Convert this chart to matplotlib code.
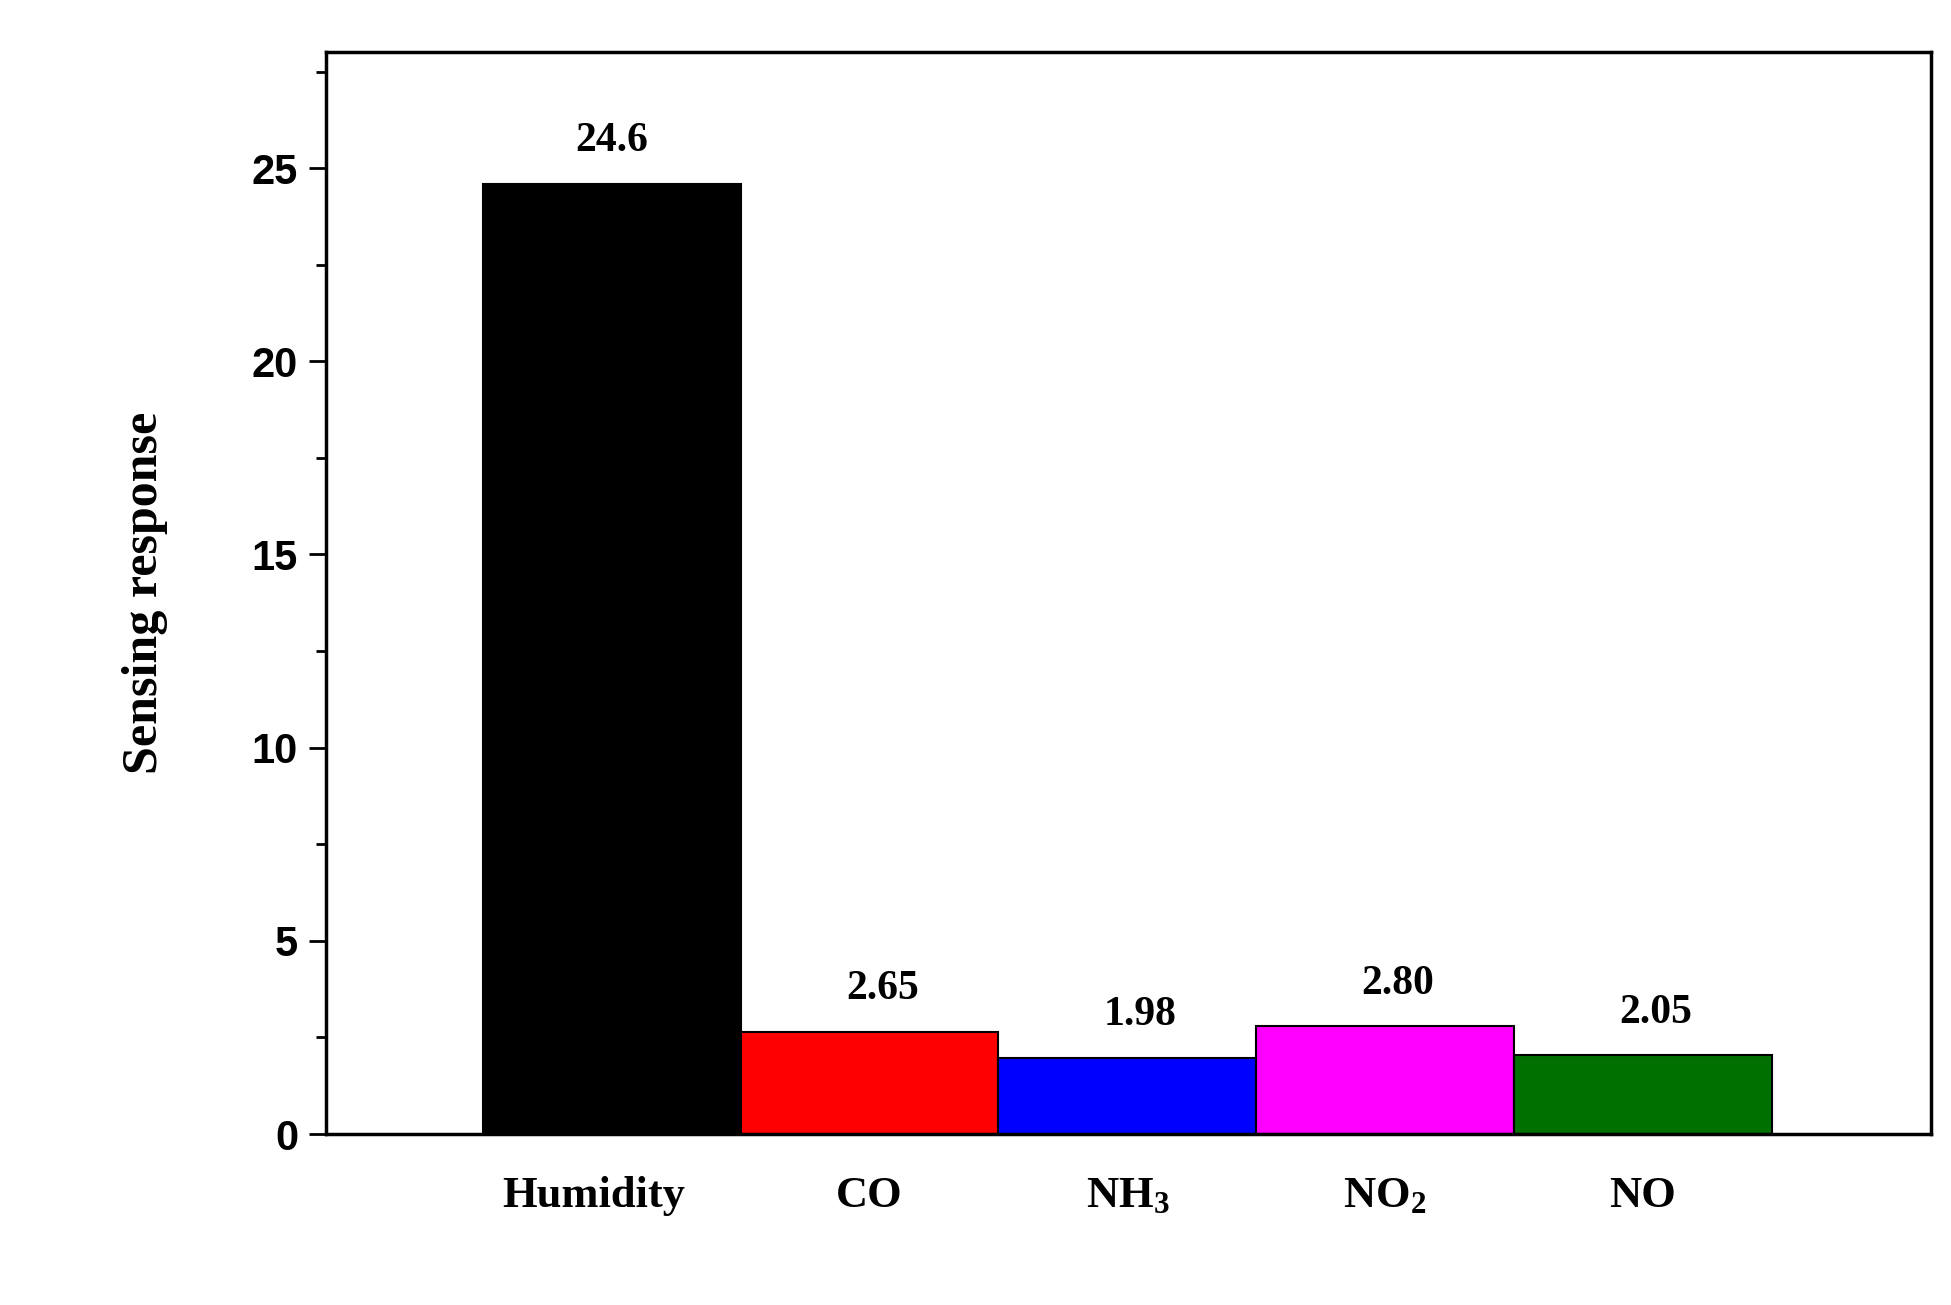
import matplotlib
matplotlib.use("Agg")
import matplotlib.pyplot as plt
from matplotlib.ticker import MultipleLocator

categories = ["Humidity", "CO", r"NH$_3$", r"NO$_2$", "NO"]
values = [24.6, 2.65, 1.98, 2.80, 2.05]
value_labels = ["24.6", "2.65", "1.98", "2.80", "2.05"]
colors = ["#000000", "#ff0000", "#0000ff", "#ff00ff", "#007000"]

plt.rcParams['mathtext.fontset'] = 'custom'
plt.rcParams['mathtext.rm'] = 'Liberation Serif:bold'
plt.rcParams['mathtext.it'] = 'Liberation Serif:bold'

fig = plt.figure(figsize=(19.51, 13.05), dpi=100)
ax = fig.add_axes([0.167, 0.131, 0.823, 0.829])
x = list(range(len(values)))
ax.bar(x, values, width=1.0, color=colors, edgecolor="black", linewidth=1.5)
for xi, v, t in zip(x, values, value_labels):
    ax.text(xi + 0.05 * (xi > 0), v + 0.6, t, ha="center", va="bottom",
            fontsize=30, fontweight="bold", family="Liberation Serif")
ax.set_xlim(-1.11, 5.12)
ax.set_ylim(0, 28)
ax.set_xticks([-0.07, 1.0, 2.0, 3.0, 4.0])
ax.set_xticklabels(categories, family="Liberation Serif", fontweight="bold", fontsize=32)
ax.tick_params(axis="x", length=0, pad=30)
ax.yaxis.set_major_locator(MultipleLocator(5))
ax.yaxis.set_minor_locator(MultipleLocator(2.5))
ax.tick_params(axis="y", which="major", length=12, width=2, labelsize=30, pad=8)
ax.tick_params(axis="y", which="minor", length=7, width=2)
for lab in ax.get_yticklabels():
    lab.set_family("Liberation Sans")
    lab.set_fontweight("bold")
for s in ax.spines.values():
    s.set_linewidth(2.5)
ax.set_ylabel("Sensing response", family="Liberation Serif", fontweight="bold",
              fontsize=36, labelpad=60)
fig.savefig("out.png", dpi=100)
